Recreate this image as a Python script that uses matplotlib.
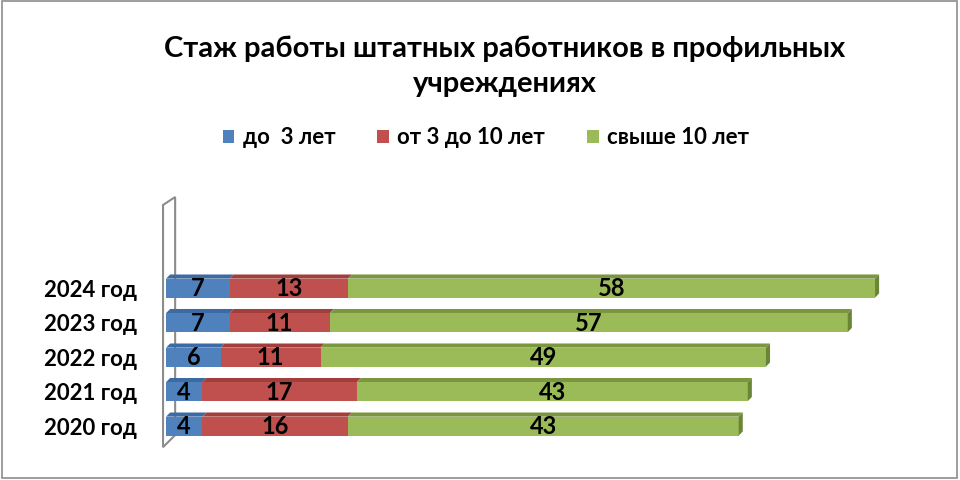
import matplotlib.pyplot as plt
from matplotlib.patches import Polygon, Rectangle, Patch
import numpy as np

plt.rcParams['font.family'] = ['Lato', 'DejaVu Sans']
plt.rcParams['font.weight'] = 'bold'

years = ['2020 год', '2021 год', '2022 год', '2023 год', '2024 год']
under_3 = [4, 4, 6, 7, 7]
from_3_to_10 = [16, 17, 11, 11, 13]
over_10 = [43, 43, 49, 57, 58]
series_names = ['до  3 лет', 'от 3 до 10 лет', 'свыше 10 лет']

front_colors = ['#4F81BD', '#C0504D', '#9BBB59']
top_colors = ['#3D6AA3', '#A23E3B', '#7A963F']
side_green = '#6B8536'

fig = plt.figure(figsize=(9.6, 4.8), dpi=100)
ax = fig.add_axes([161.5 / 960, 28.0 / 480, 731.7 / 960, 260.5 / 480])
ax.set_xlim(-0.5, 80)
ax.set_ylim(-0.75, 6.8)

y = np.arange(len(years))
bar_h = 0.55
dx, dy = 0.45, 0.12  # depth of the 3d faces

# left wall
wall = Polygon([(-0.33, -0.61), (-0.33, 6.41), (1.0, 6.64), (1.0, -0.26)],
               closed=True, facecolor='white', edgecolor='#8C8C8C', lw=1.5, zorder=1)
ax.add_patch(wall)

left = np.zeros(len(years))
for vals, fc, tc in zip([under_3, from_3_to_10, over_10], front_colors, top_colors):
    vals = np.array(vals, dtype=float)
    ax.barh(y, vals, left=left, height=bar_h, color=fc, zorder=3)
    for yi, l, v in zip(y, left, vals):
        top = yi + bar_h / 2
        ax.add_patch(Polygon([(l, top), (l + v, top), (l + v + dx, top + dy), (l + dx, top + dy)],
                             closed=True, facecolor=tc, edgecolor='none', zorder=2))
        ax.text(l + v / 2, yi - 0.02, f'{int(v)}', ha='center', va='center',
                fontsize=17, fontweight='bold', color='black', zorder=5)
    left = left + vals

# right side faces of the bars
for yi, r in zip(y, left):
    bot, top = yi - bar_h / 2, yi + bar_h / 2
    ax.add_patch(Polygon([(r, bot), (r, top), (r + dx, top + dy), (r + dx, bot + dy)],
                         closed=True, facecolor=side_green, edgecolor='none', zorder=4))

ax.set_yticks(y)
ax.set_yticklabels(years, fontsize=16, fontweight='bold')
ax.tick_params(axis='y', length=0, pad=17.5)
ax.set_xticks([])
for s in ax.spines.values():
    s.set_visible(False)

fig.text(505 / 960, 1 - 66 / 480, 'Стаж работы штатных работников в профильных\nучреждениях',
         ha='center', va='center', fontsize=21, fontweight='bold', linespacing=1.42)

handles = [Patch(facecolor=c) for c in front_colors]
fig.legend(handles, series_names, loc='center', bbox_to_anchor=(486 / 960, 1 - 138 / 480),
           ncol=3, frameon=False, fontsize=16, handlelength=0.5, handleheight=0.5,
           handletextpad=0.4, columnspacing=1.9)

fig.patches.append(Rectangle((0.002, 0.004), 0.995, 0.993, transform=fig.transFigure,
                             fill=False, edgecolor='#8C8C8C', lw=1.2))

fig.savefig('out.png', dpi=100)
